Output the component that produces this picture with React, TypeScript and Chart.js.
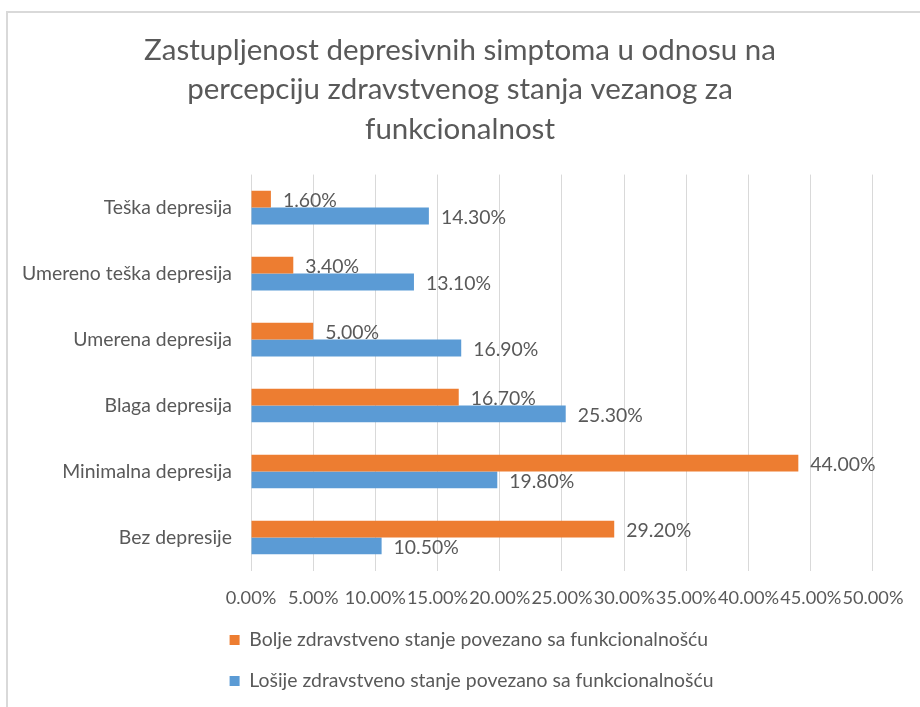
import React, { useEffect, useRef } from "react";
import { Chart, registerables } from "chart.js";

Chart.register(...registerables);

const categories = [
  "Teška depresija",
  "Umereno teška depresija",
  "Umerena depresija",
  "Blaga depresija",
  "Minimalna depresija",
  "Bez depresije",
];
const boljeValues = [1.6, 3.4, 5.0, 16.7, 44.0, 29.2];
const losijeValues = [14.3, 13.1, 16.9, 25.3, 19.8, 10.5];
const seriesNames = [
  "Bolje zdravstveno stanje povezano sa funkcionalnošću",
  "Lošije zdravstveno stanje povezano sa funkcionalnošću",
];
const titleLines = [
  "Zastupljenost depresivnih simptoma u odnosu na",
  "percepciju zdravstvenog stanja vezanog za",
  "funkcionalnost",
];
const xMin = 0;
const xMax = 50;
const xStep = 5;

const FONT = "Lato, 'Open Sans', sans-serif";
const TEXT = "#595959";
const FS = 19.4;
const TICK_FS = 18.2;

const dataLabels = {
  id: "dataLabels",
  afterDatasetsDraw(chart: any) {
    const ctx = chart.ctx;
    ctx.save();
    ctx.font = `${FS}px ${FONT}`;
    ctx.fillStyle = TEXT;
    ctx.textAlign = "left";
    ctx.textBaseline = "middle";
    chart.data.datasets.forEach((ds: any, di: number) => {
      const meta = chart.getDatasetMeta(di);
      meta.data.forEach((bar: any, i: number) => {
        const v = ds.data[i];
        ctx.fillText(v.toFixed(2) + "%", bar.x + 12, bar.y + 2);
      });
    });
    ctx.restore();
  },
};

const blockShift = {
  id: "blockShift",
  afterLayout(chart: any) {
    if (chart.legend) {
      chart.legend.left = 208;
    }
    if (chart.titleBlock) {
      chart.titleBlock.left = 0;
      chart.titleBlock.right = 920;
    }
  },
};

export default function App() {
  const ref = useRef<HTMLCanvasElement | null>(null);
  useEffect(() => {
    if (!ref.current) return;
    const chart = new Chart(ref.current, {
      type: "bar",
      data: {
        labels: categories,
        datasets: [
          {
            label: seriesNames[0],
            data: boljeValues,
            backgroundColor: "#ED7D31",
            borderWidth: 0,
            categoryPercentage: 0.51,
            barPercentage: 1.0,
          },
          {
            label: seriesNames[1],
            data: losijeValues,
            backgroundColor: "#5B9BD5",
            borderWidth: 0,
            categoryPercentage: 0.51,
            barPercentage: 1.0,
          },
        ],
      },
      options: {
        indexAxis: "y",
        animation: false,
        responsive: false,
        maintainAspectRatio: false,
        layout: { padding: { left: 0, right: 45, top: 0, bottom: 6.3 } },
        scales: {
          x: {
            min: xMin,
            max: xMax,
            grid: { color: "#d9d9d9", lineWidth: 1, drawTicks: false },
            border: { display: false },
            ticks: {
              stepSize: xStep,
              autoSkip: false,
              maxRotation: 0,
              minRotation: 0,
              padding: 16.5,
              color: TEXT,
              font: { family: FONT, size: TICK_FS },
              callback: (v: any) => Number(v).toFixed(2) + "%",
            },
            afterFit(scale: any) {
              scale.height = 38.2;
            },
          },
          y: {
            grid: { display: false, drawTicks: false },
            border: { display: false },
            ticks: {
              padding: 19,
              color: TEXT,
              font: { family: FONT, size: FS },
            },
            afterFit(scale: any) {
              scale.width = 251;
            },
          },
        },
        plugins: {
          title: {
            display: true,
            text: titleLines,
            color: TEXT,
            font: { family: FONT, size: 29.5, weight: "400", lineHeight: 1.34 },
            padding: { top: 30.25, bottom: 25.75 },
          },
          legend: {
            position: "bottom",
            align: "start",
            labels: {
              boxWidth: 10,
              boxHeight: 10,
              padding: 21.6,
              color: TEXT,
              font: { family: FONT, size: FS },
            },
          },
          tooltip: { enabled: false },
        },
      },
      plugins: [dataLabels, blockShift],
    });
    return () => chart.destroy();
  }, []);

  return (
    <div style={{ position: "fixed", left: 0, top: 0, width: 920, height: 707, background: "#fff", overflow: "hidden" }}>
      <div
        style={{
          position: "absolute",
          left: 6,
          top: 11,
          width: 940,
          height: 720,
          borderTop: "2px solid #d9d9d9",
          borderLeft: "2px solid #d9d9d9",
        }}
      />
      <canvas ref={ref} width={920} height={707} style={{ position: "absolute", left: 0, top: 0 }} />
    </div>
  );
}
